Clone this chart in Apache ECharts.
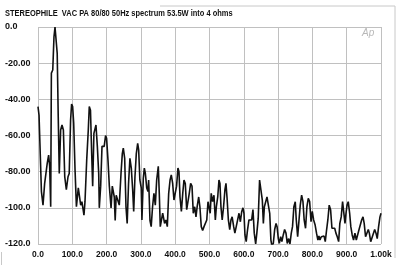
<!DOCTYPE html>
<html><head><meta charset="utf-8">
<script src="https://cdn.jsdelivr.net/npm/echarts@6/dist/echarts.min.js"></script>
<style>html,body{margin:0;padding:0;background:#fff}#c{width:400px;height:265px}</style>
</head><body><div id="c"></div>
<script>
const titleText = 'STEREOPHILE  VAC PA 80/80 50Hz spectrum 53.5W into 4 ohms';
const xTickLabels = ['0.0','100.0','200.0','300.0','400.0','500.0','600.0','700.0','800.0','900.0','1.00k'];
const yTickLabels = ['-120.0','-100.0','-80.00','-60.00','-40.00','-20.00','0.0'];
const freqHz = [0,3,10,14.6,19.4,24,27,31,34,37,39,43,46.6,49.6,53.4,56,59,62,66,70,74,78,82.6,87.5,91,95,98,101,104,108,112,117.5,121.5,124.5,128,134,137,142,146.6,149.5,153,156.5,159.4,163,169,173,177,178.7,182.7,186.6,190,193,197,200,204,208,213,216.6,219.5,222.4,225,228,233,237,242,245.8,248.7,252.7,256.5,260,264,268,272,276,279,282.7,286.6,290.6,293.5,297,301,303,307,310,313,317,320.6,322.6,326.5,330,334,338,342,346,350.7,353.6,356.5,359.5,363.5,366.4,369,373,377,381,385,388.6,392.6,396.4,400,404,408,411,414,418,422,425.6,429.4,433.5,437,441,445,449,452.7,456.8,460.6,464,468.5,472,476,480,484,488,492,495.6,499,502,505,509,513,517,520,524,527.6,530.5,533.4,537,541,545,548,551,555,559,562.6,566,570.5,574,578,582,586,590,594,597.6,600.5,603.4,607,611,615,619,623,626.7,630.5,634.6,638,642,646,650,654,657,660,664,667.6,671,675.6,679,682,686,690,694,697,700.6,703.5,707.5,711,715,719,723,726.7,730.8,734.6,738.4,742,746,750,753,757,761,764.6,768.6,772.5,776,780,784,788,792,796,799.6,803.6,808,812,816,819,822,826,830,834,837.5,841.5,845,849,853,857,861,865,868.6,872.5,876.5,880,884,888,892,895,898,901,904.5,908.6,912,916,920,924,928,932,936,939.5,943.6,947.5,951,955,959,963,966,970,974,978,981.6,985.4,989,993,997,1000];
const levelDb = [-44,-48.7,-91,-98.5,-86.5,-85.7,-75.3,-70.8,-77,-99.4,-25.5,-23.8,-5.4,0,-0.7,-14.6,-49.6,-81,-57,-54.2,-57,-82.8,-90,-82.8,-81,-51.4,-42.6,-44,-53,-79,-99.4,-89,-89,-98.5,-96.6,-104,-96.6,-73.5,-57,-44,-46,-70,-88,-58.8,-54.2,-66,-81,-100,-88,-66,-65,-66,-60,-61.5,-73.5,-88,-100,-88,-87,-94,-107,-93,-94,-98.5,-81,-70,-67,-72.6,-99.4,-108.6,-86.5,-72.6,-78,-90,-102,-82.8,-70,-64.3,-68,-84.6,-89,-106.7,-83.7,-78,-81,-89,-91,-84.6,-107,-110.4,-99.4,-92,-98.5,-84.6,-77,-92,-110.4,-111.3,-103,-105.8,-108.6,-106.7,-110.4,-92,-84.6,-81.8,-86.5,-95.7,-92,-88,-78,-80,-94,-102,-92,-84.6,-86.5,-101,-102,-92,-86.5,-88,-103,-99.4,-105,-99.4,-94,-99.4,-110.4,-112.5,-110.4,-111.5,-106.7,-96.6,-97.5,-103,-92,-96.6,-93,-106.7,-99.4,-94,-84.6,-86.5,-99.4,-106.7,-99.4,-90,-86.5,-94,-106.7,-112,-106.7,-105,-110.4,-114,-114,-106.7,-103,-107.7,-102,-100,-103,-115,-118.7,-112,-106.7,-105.8,-106.7,-101,-114,-120,-114,-106,-84.6,-85.5,-95.7,-108.6,-99.4,-98.5,-94,-94.8,-103,-117.8,-121,-119.7,-112,-108.6,-110.4,-117,-119.7,-116,-118.7,-115,-112,-114,-119.7,-117,-120,-114,-110.4,-99.4,-96.6,-106.7,-116,-106.7,-98.5,-93,-96.6,-106.7,-111.3,-99.4,-94.8,-96.6,-107.7,-102,-106.7,-109.5,-114,-117.8,-115.6,-117.8,-116,-117,-115.6,-118.7,-112,-106.7,-98.5,-101,-111.3,-112,-111.3,-114,-116,-118.7,-108.6,-105,-96.6,-96.6,-108.6,-103,-98.5,-96.6,-103,-110.4,-115,-117.8,-114,-117.8,-117,-112,-113,-106.7,-105,-108.6,-116,-115,-112,-114,-118.7,-117.8,-114,-112,-114,-117,-110.4,-105,-103];

const seriesData = freqHz.map((f, i) => [f, levelDb[i]]);
const FONT = '"Liberation Sans", Arial, sans-serif';
const chart = echarts.init(document.getElementById('c'), null, {renderer: 'canvas'});
chart.setOption({
  animation: false,
  backgroundColor: '#fff',
  grid: {left: 38, right: 19, top: 27, bottom: 21},
  xAxis: {
    type: 'value', min: 0, max: 1000, interval: 100,
    axisLine: {show: false}, axisTick: {show: false},
    splitLine: {show: true, lineStyle: {color: '#c0c0c0', width: 1}},
    axisLabel: {
      margin: 6, color: '#111', fontFamily: FONT, fontWeight: 'bold', fontSize: 8.5,
      formatter: v => xTickLabels[Math.round(v / 100)]
    }
  },
  yAxis: {
    type: 'value', min: -120, max: 0, interval: 20,
    axisLine: {show: false}, axisTick: {show: false},
    splitLine: {show: true, lineStyle: {color: '#c0c0c0', width: 1}},
    axisLabel: {
      margin: 33, align: 'left', color: '#111', fontFamily: FONT, fontWeight: 'bold', fontSize: 9,
      formatter: v => yTickLabels[Math.round((v + 120) / 20)]
    }
  },
  series: [{
    type: 'line', data: seriesData, showSymbol: false, symbol: 'none',
    lineStyle: {color: '#111', width: 1.6}, clip: true
  }],
  graphic: [
    {type: 'text', x: 5, y: 9, scaleX: 0.86, style: {text: titleText, fill: '#111', font: 'bold 8.7px ' + FONT}},
    {type: 'text', x: 362, y: 28, style: {text: 'Ap', fill: '#b8b8b8', font: 'italic 10px ' + FONT}},
    {type: 'line', shape: {x1: 160, y1: 6, x2: 395, y2: 6}, style: {stroke: '#c8c8c8', lineWidth: 1}},
    {type: 'line', shape: {x1: 395, y1: 6, x2: 395, y2: 258}, style: {stroke: '#c8c8c8', lineWidth: 1}},
    {type: 'line', shape: {x1: 1.5, y1: 252, x2: 1.5, y2: 265}, style: {stroke: '#c8c8c8', lineWidth: 1}}
  ]
});
</script></body></html>
